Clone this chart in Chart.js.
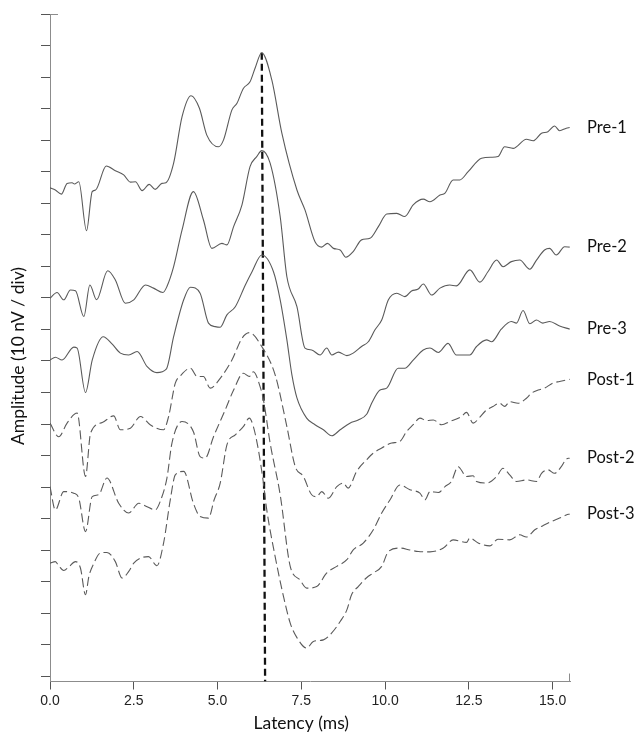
<!DOCTYPE html>
<html><head><meta charset="utf-8">
<script src="https://cdn.jsdelivr.net/npm/chart.js@4/dist/chart.umd.min.js"></script>
<style>html,body{margin:0;padding:0;background:#fff}canvas{display:block}</style>
</head><body>
<canvas id="c" width="636" height="733"></canvas>
<script>
// ---- data (x: latency in ms, y: amplitude in divisions, trace offsets included) ----
const traceNames = ['Pre-1','Pre-2','Pre-3','Post-1','Post-2','Post-3'];
const pre1 = [[0,15.49],[0.16,15.42],[0.34,15.29],[0.51,15.63],[0.66,15.65],[0.73,15.61],[0.86,15.68],[1.09,14.13],[1.26,15.37],[1.36,15.42],[1.68,16.18],[1.95,16.03],[2.20,15.90],[2.40,15.67],[2.55,15.68],[2.75,15.40],[2.96,15.60],[3.14,15.44],[3.34,15.63],[3.46,15.65],[3.69,16.27],[3.94,17.74],[4.21,18.41],[4.46,18.01],[4.68,17.16],[5.03,16.79],[5.18,17.01],[5.43,17.96],[5.58,18.17],[5.77,18.64],[5.97,18.85],[6.12,19.28],[6.32,19.77],[6.62,18.91],[6.92,17.22],[7.37,15.42],[7.61,14.79],[7.91,13.78],[8.11,13.61],[8.28,13.73],[8.46,13.57],[8.66,13.52],[8.83,13.29],[9.05,13.47],[9.30,13.84],[9.55,13.89],[9.80,14.26],[10.05,14.66],[10.35,14.68],[10.59,14.58],[10.84,14.95],[11.14,15.13],[11.34,15.05],[11.64,15.26],[11.79,15.32],[12.03,15.74],[12.23,15.74],[12.48,16.00],[12.88,16.43],[13.18,16.46],[13.37,16.48],[13.57,16.79],[13.82,16.74],[14.22,17.03],[14.42,16.98],[14.67,17.22],[14.86,17.27],[15.06,17.45],[15.21,17.30],[15.41,17.38],[15.51,17.40]];
const pre2 = [[0,11.99],[0.21,12.17],[0.41,11.94],[0.61,12.25],[0.76,12.23],[1.01,11.41],[1.19,12.41],[1.39,11.94],[1.72,12.86],[1.95,12.57],[2.25,11.83],[2.50,11.94],[2.85,12.41],[3.09,12.31],[3.37,12.17],[3.49,12.36],[3.69,12.99],[3.94,14.15],[4.28,15.37],[4.58,14.47],[4.83,13.57],[5.13,13.73],[5.28,13.68],[5.48,14.26],[5.73,14.95],[5.97,16.16],[6.17,16.48],[6.32,16.67],[6.57,16.27],[6.87,14.58],[7.07,12.67],[7.37,11.72],[7.61,10.41],[7.81,10.35],[8.06,10.19],[8.26,10.41],[8.41,10.19],[8.61,10.28],[8.86,10.17],[9.05,10.25],[9.30,10.46],[9.50,10.61],[9.70,10.99],[9.90,11.30],[10.10,11.94],[10.35,12.15],[10.59,12.04],[10.79,12.22],[10.99,12.28],[11.14,12.44],[11.39,12.09],[11.64,12.31],[11.93,12.41],[12.13,12.38],[12.53,12.89],[12.83,12.50],[13.07,12.83],[13.33,13.20],[13.52,12.99],[13.77,13.15],[14.02,13.20],[14.32,12.91],[14.52,13.20],[14.76,13.52],[14.91,13.57],[15.11,13.36],[15.36,13.62],[15.51,13.61]];
const pre3 = [[0,10.03],[0.16,10.12],[0.36,10.03],[0.71,10.44],[0.81,10.41],[1.06,9.00],[1.26,10.03],[1.59,10.77],[1.85,10.54],[2.10,10.25],[2.35,10.19],[2.60,10.30],[2.90,9.82],[3.19,9.63],[3.47,9.74],[3.69,10.77],[3.99,11.94],[4.19,12.34],[4.48,12.15],[4.73,11.20],[4.93,11.09],[5.08,11.07],[5.28,11.46],[5.53,11.72],[5.83,12.41],[6.03,12.83],[6.32,13.36],[6.67,12.83],[6.87,11.94],[7.07,10.67],[7.22,9.56],[7.37,8.83],[7.66,8.19],[7.91,7.98],[8.16,7.82],[8.41,7.63],[8.66,7.82],[8.95,8.03],[9.20,8.13],[9.45,8.31],[9.60,8.66],[9.85,9.08],[10.05,9.14],[10.39,9.77],[10.59,9.77],[10.84,10.03],[11.14,10.35],[11.34,10.41],[11.59,10.27],[11.88,10.56],[12.13,10.19],[12.53,10.19],[12.73,10.46],[13.03,10.67],[13.18,10.61],[13.47,11.01],[13.77,11.25],[13.92,11.20],[14.12,11.60],[14.32,11.18],[14.52,11.30],[14.71,11.20],[14.91,11.25],[15.21,11.11],[15.51,11.01]];
const post1 = [[0,8.03],[0.26,7.60],[0.51,8.03],[0.81,8.35],[1.06,6.34],[1.21,7.71],[1.56,8.05],[1.90,8.26],[2.10,7.82],[2.40,7.87],[2.70,8.24],[2.99,7.98],[3.39,7.82],[3.54,8.24],[3.74,9.30],[3.89,9.53],[4.19,9.77],[4.39,9.51],[4.58,9.51],[4.78,9.14],[5.08,9.45],[5.43,10.03],[5.73,10.72],[5.95,10.90],[6.32,10.46],[6.72,9.56],[7.07,7.92],[7.32,6.65],[7.56,6.34],[7.81,5.76],[7.96,5.70],[8.11,5.86],[8.31,5.65],[8.56,6.02],[8.75,6.13],[8.90,5.97],[9.15,6.50],[9.45,6.87],[9.65,7.08],[9.90,7.24],[10.20,7.40],[10.44,7.45],[10.64,7.76],[10.84,7.98],[11.04,8.19],[11.24,8.11],[11.44,8.13],[11.69,7.98],[11.93,8.08],[12.28,8.24],[12.43,8.37],[12.63,8.03],[12.83,8.22],[12.98,8.40],[13.22,8.56],[13.42,8.66],[13.57,8.56],[13.72,8.71],[13.97,8.66],[14.22,8.82],[14.37,8.98],[14.57,9.08],[14.76,9.14],[15.01,9.30],[15.21,9.35],[15.51,9.42]];
const post2 = [[0,6.02],[0.16,5.28],[0.41,5.86],[0.71,5.81],[0.86,5.65],[1.06,4.59],[1.26,5.70],[1.45,5.76],[1.70,6.29],[2.05,5.49],[2.35,5.18],[2.65,5.49],[2.88,5.39],[3.14,5.28],[3.29,5.55],[3.49,6.29],[3.64,7.40],[3.94,8.08],[4.28,7.76],[4.48,6.97],[4.63,6.92],[4.88,7.60],[5.23,8.45],[5.48,9.08],[5.77,9.61],[5.95,9.51],[6.07,9.66],[6.27,9.19],[6.37,8.77],[6.57,7.40],[6.87,5.76],[7.17,3.49],[7.46,3.06],[7.66,2.80],[7.96,2.85],[8.26,3.28],[8.56,3.49],[8.86,3.70],[9.05,4.01],[9.35,4.23],[9.65,4.65],[9.90,5.18],[10.15,5.60],[10.44,6.07],[10.74,5.92],[11.04,5.81],[11.19,5.60],[11.34,5.86],[11.59,5.83],[11.79,6.02],[11.98,6.18],[12.18,6.65],[12.43,6.34],[12.63,6.36],[12.73,6.18],[13.03,6.13],[13.33,6.34],[13.52,6.60],[13.72,6.39],[13.92,6.18],[14.22,6.23],[14.52,6.18],[14.67,6.44],[14.86,6.55],[15.06,6.44],[15.26,6.65],[15.41,6.89],[15.51,6.92]];
const post3 = [[0,3.59],[0.16,3.64],[0.26,3.51],[0.41,3.36],[0.56,3.47],[0.76,3.64],[0.91,3.43],[1.06,2.59],[1.16,3.17],[1.31,3.59],[1.50,3.91],[1.70,3.93],[1.95,3.64],[2.15,3.12],[2.35,3.33],[2.50,3.59],[2.70,3.75],[2.94,3.80],[3.19,3.51],[3.39,4.23],[3.59,5.60],[3.74,6.39],[3.99,6.50],[4.28,5.49],[4.48,5.07],[4.73,5.02],[4.90,5.60],[5.08,6.13],[5.28,7.34],[5.53,7.66],[5.77,7.92],[5.95,8.19],[6.07,7.92],[6.22,7.18],[6.37,6.13],[6.47,5.28],[6.72,3.80],[6.97,2.53],[7.17,1.69],[7.37,1.23],[7.66,0.90],[7.86,1.11],[8.16,1.16],[8.41,1.38],[8.66,1.74],[8.86,2.11],[9.00,2.59],[9.20,2.85],[9.45,3.13],[9.65,3.28],[9.90,3.49],[10.10,3.96],[10.44,4.07],[10.74,4.01],[10.99,3.96],[11.34,3.95],[11.74,4.07],[12.03,4.33],[12.43,4.25],[12.53,4.39],[12.78,4.23],[13.13,4.14],[13.37,4.35],[13.72,4.33],[14.02,4.49],[14.22,4.42],[14.47,4.65],[14.71,4.78],[14.96,4.91],[15.21,5.02],[15.41,5.12],[15.51,5.15]];
const peakMarker = [[6.32,19.77],[6.42,-0.16]];
const xTicks = [0,2.5,5,7.5,10,12.5,15];
const yTicks = [0,1,2,3,4,5,6,7,8,9,10,11,12,13,14,15,16,17,18,19,20,21];
const xRange = [0,15.52];
const yRange = [-0.16,21];
const xTitle = 'Latency (ms)';
const yTitle = 'Amplitude (10 nV / div)';

// ---- chart ----
const traces = [pre1,pre2,pre3,post1,post2,post3];
const toPts = a => a.map(p => ({x:p[0], y:p[1]}));
const datasets = traces.map((t,i) => ({
  label: traceNames[i],
  data: toPts(t),
  borderColor: '#5a5a5a',
  borderWidth: 1.1,
  borderDash: i < 3 ? [] : [9,4],
  pointRadius: 0,
  cubicInterpolationMode: 'monotone',
  fill: false
}));
datasets.push({
  label: '',
  data: toPts(peakMarker),
  borderColor: '#111',
  borderWidth: 2.3,
  borderDash: [7,4],
  pointRadius: 0,
  tension: 0,
  fill: false
});

const deco = {
  id: 'deco',
  afterDraw(chart) {
    const {ctx, chartArea: a, scales: {x, y}} = chart;
    ctx.save();
    ctx.strokeStyle = '#8c8c8c';
    ctx.lineWidth = 1;
    ctx.beginPath();
    ctx.moveTo(a.left, Math.round(a.top) + 0.5);
    ctx.lineTo(a.left + 8, Math.round(a.top) + 0.5);
    ctx.moveTo(Math.round(a.right) - 0.5, a.bottom);
    ctx.lineTo(Math.round(a.right) - 0.5, a.bottom - 8);
    ctx.stroke();
    ctx.fillStyle = '#111';
    ctx.font = '16.5px Lato, "Open Sans", sans-serif';
    ctx.textBaseline = 'middle';
    ctx.textAlign = 'left';
    chart.data.datasets.forEach(ds => {
      if (!ds.label) return;
      const last = ds.data[ds.data.length - 1];
      ctx.fillText(ds.label, a.right + 17, y.getPixelForValue(last.y));
    });
    ctx.font = '17.5px Lato, "Open Sans", sans-serif';
    ctx.textAlign = 'center';
    ctx.fillText(xTitle, x.getPixelForValue(7.5), 723);
    ctx.translate(18, 356);
    ctx.rotate(-Math.PI / 2);
    ctx.fillText(yTitle, 0, 0);
    ctx.restore();
  }
};

Chart.defaults.font.family = '"Liberation Sans", Arial, sans-serif';
Chart.defaults.font.size = 14;
Chart.defaults.color = '#222';

new Chart(document.getElementById('c'), {
  type: 'line',
  data: { datasets },
  options: {
    responsive: false,
    animation: false,
    devicePixelRatio: 1,
    layout: { padding: { top: 14, right: 66, left: 0, bottom: 0 } },
    plugins: { legend: { display: false }, tooltip: { enabled: false } },
    scales: {
      x: {
        type: 'linear',
        min: xRange[0], max: xRange[1],
        afterBuildTicks: s => { s.ticks = xTicks.map(v => ({value: v})); },
        afterFit: s => { s.height = 51.5; },
        ticks: { callback: v => Number(v).toFixed(1), padding: 3, maxRotation: 0, autoSkip: false, color: '#222' },
        grid: { drawOnChartArea: false, tickLength: 8, color: '#555' },
        border: { color: '#8c8c8c' }
      },
      y: {
        type: 'linear',
        min: yRange[0], max: yRange[1],
        afterBuildTicks: s => { s.ticks = yTicks.map(v => ({value: v})); },
        afterFit: s => { s.width = 50; },
        ticks: { display: false },
        grid: { drawOnChartArea: false, tickLength: 9, color: '#555' },
        border: { color: '#8c8c8c' }
      }
    }
  },
  plugins: [deco]
});
</script>
</body></html>
